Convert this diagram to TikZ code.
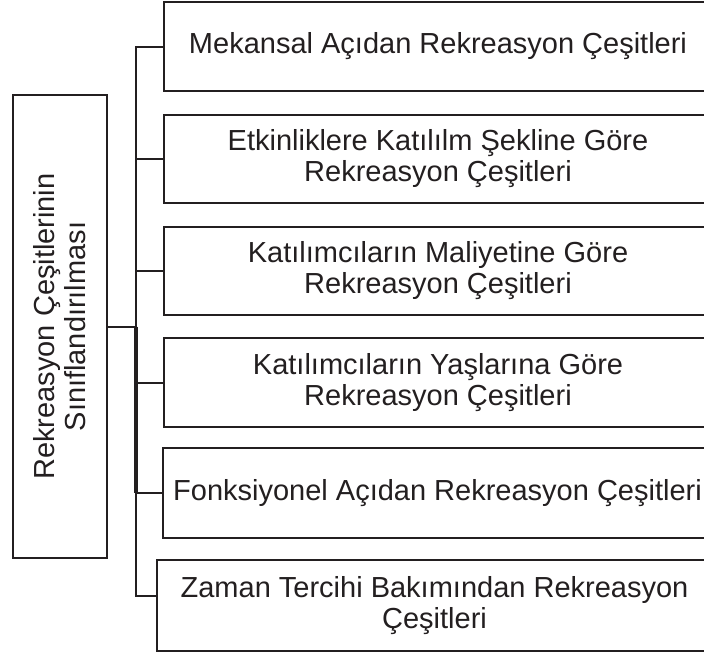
\documentclass[tikz,border=0pt]{standalone}
\usepackage{fontspec}
\setmainfont{Liberation Sans}
\definecolor{ink}{HTML}{231F20}
\begin{document}
\begin{tikzpicture}[x=1pt,y=-1pt,
  catbox/.style={draw=ink, line width=2pt, inner sep=0pt, outer sep=0pt, rectangle,
     minimum width=548pt, align=center, text=ink,
     font=\fontsize{29}{31}\selectfont},
  link/.style={draw=ink, line width=2pt}]
\useasboundingbox (0,0) rectangle (704,657);
\fill[white] (0,0) rectangle (704,657);
\node[catbox, minimum height=89pt] (b1) at (438,46.5) {Mekansal Açıdan Rekreasyon Çeşitleri};
\node[catbox, minimum height=88pt] (b2) at (438,159) {Etkinliklere Katılılm Şekline Göre\\Rekreasyon Çeşitleri};
\node[catbox, minimum height=88pt] (b3) at (438,271) {Katılımcıların Maliyetine Göre\\Rekreasyon Çeşitleri};
\node[catbox, minimum height=89pt] (b4) at (438,382.5) {Katılımcıların Yaşlarına Göre\\Rekreasyon Çeşitleri};
\node[catbox, minimum height=90pt, minimum width=549pt] (b5) at (437.5,493) {Fonksiyonel Açıdan Rekreasyon Çeşitleri};
\node[catbox, minimum height=91pt, minimum width=555pt] (b6) at (434.5,605.5) {Zaman Tercihi Bakımından Rekreasyon\\Çeşitleri};
\node[draw=ink, line width=2pt, inner sep=0pt, outer sep=0pt, minimum width=94pt, minimum height=463pt,
  text=ink, font=\fontsize{29}{31}\selectfont] (L) at (60,326.5) {};
\node[rotate=90, align=center, text=ink, font=\fontsize{29}{31}\selectfont] (Lt) at (L.center) {Rekreasyon Çeşitlerinin\\Sınıflandırılması};
\coordinate (tr) at (136,0);
\coordinate (j6) at (136,596);
\draw[link] (b1.west) -- (tr |- b1.west) -- (j6) -- (b6.west |- j6);
\draw[link] (b2.west) -- (tr |- b2.west);
\draw[link] (b3.west) -- (tr |- b3.west);
\draw[link] (b4.west) -- (tr |- b4.west);
\draw[link] (b5.west) -- (tr |- b5.west);
\draw[link] (L.east) -- (tr |- L.east);
\draw[draw=ink, line width=4pt] (tr |- L.east) -- (tr |- b5.west);
\end{tikzpicture}
\end{document}
